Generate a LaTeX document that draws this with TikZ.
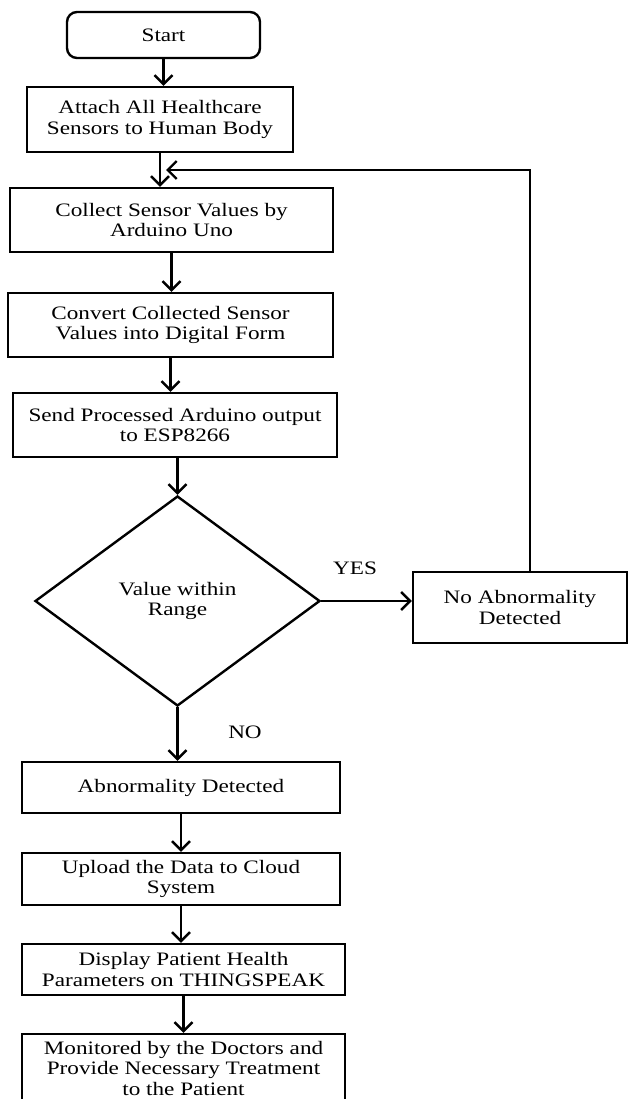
\documentclass[tikz,border=0pt]{standalone}
\usepackage{fontspec}
\setmainfont{Liberation Serif}[FakeStretch=1.22]
\usetikzlibrary{shapes.geometric,arrows.meta,calc}

\tikzset{
  box/.style={draw, line width=2.4pt, align=center, inner sep=0pt,
    font=\fontsize{19}{20.5}\selectfont},
  startbox/.style={box, rounded corners=10pt},
  decision/.style={box, diamond},
  lbl/.style={font=\fontsize{19}{20.5}\selectfont},
  arr/.style={line width=2.4pt, -{Straight Barb[length=9pt,width=18pt]}}
}

\begin{document}
\begin{tikzpicture}[x=1pt,y=-1pt]
    \useasboundingbox (0,0) rectangle (629,1099);

    % the main column
    \node[startbox, minimum width=193pt, minimum height=46pt] (start) at (163.5,35) {Start};
    \node[box, minimum width=266pt, minimum height=65pt] (attach) at (160,119.5) {Attach All Healthcare\\Sensors to Human Body};
    \node[box, minimum width=323pt, minimum height=64pt] (collect) at (171.5,220) {Collect Sensor Values by\\Arduino Uno};
    \node[box, minimum width=325pt, minimum height=64pt] (convert) at (170.5,325) {Convert Collected Sensor\\Values into Digital Form};
    \node[box, minimum width=324pt, minimum height=64pt] (send) at (175,425) {Send Processed Arduino output\\to ESP8266};
    \node[decision, minimum width=285pt, minimum height=210pt] (check) at (177.5,601) {Value within\\Range};
    \node[box, minimum width=214pt, minimum height=71pt] (noab) at (520,607.5) {No Abnormality\\Detected};
    \node[box, minimum width=318pt, minimum height=51pt] (abn) at (181,787.5) {Abnormality Detected};
    \node[box, minimum width=318pt, minimum height=52pt] (upload) at (181,879) {Upload the Data to Cloud\\System};
    \node[box, minimum width=323pt, minimum height=51pt] (display) at (183.5,969.5) {Display Patient Health\\Parameters on THINGSPEAK};
    \node[box, minimum width=323pt, minimum height=68pt] (monitor) at (183.5,1068) {Monitored by the Doctors and\\Provide Necessary Treatment\\to the Patient};

    \node[lbl] (yes) at (355,568) {YES};
    \node[lbl] (no) at (245,732) {NO};

    % where the loop comes back
    \coordinate (join) at ($(attach.south)!0.5!(attach.south |- collect.north)+(6,0)$);

    \draw[arr] (start.south) -- (start.south |- attach.north);
    \draw[arr] (attach.south) -- (attach.south |- collect.north);
    \draw[arr] (collect.south) -- (collect.south |- convert.north);
    \draw[arr] (convert.south) -- (convert.south |- send.north);
    \draw[arr] (check.north |- send.south) -- (check.north);
    \draw[arr] (check.east) -- (check.east -| noab.west);
    \draw[arr] ([xshift=10pt]noab.north) |- (join);
    \draw[arr] (check.south) -- (check.south |- abn.north);
    \draw[arr] (abn.south) -- (abn.south |- upload.north);
    \draw[arr] (upload.south) -- (upload.south |- display.north);
    \draw[arr] (display.south) -- (display.south |- monitor.north);
\end{tikzpicture}
\end{document}
